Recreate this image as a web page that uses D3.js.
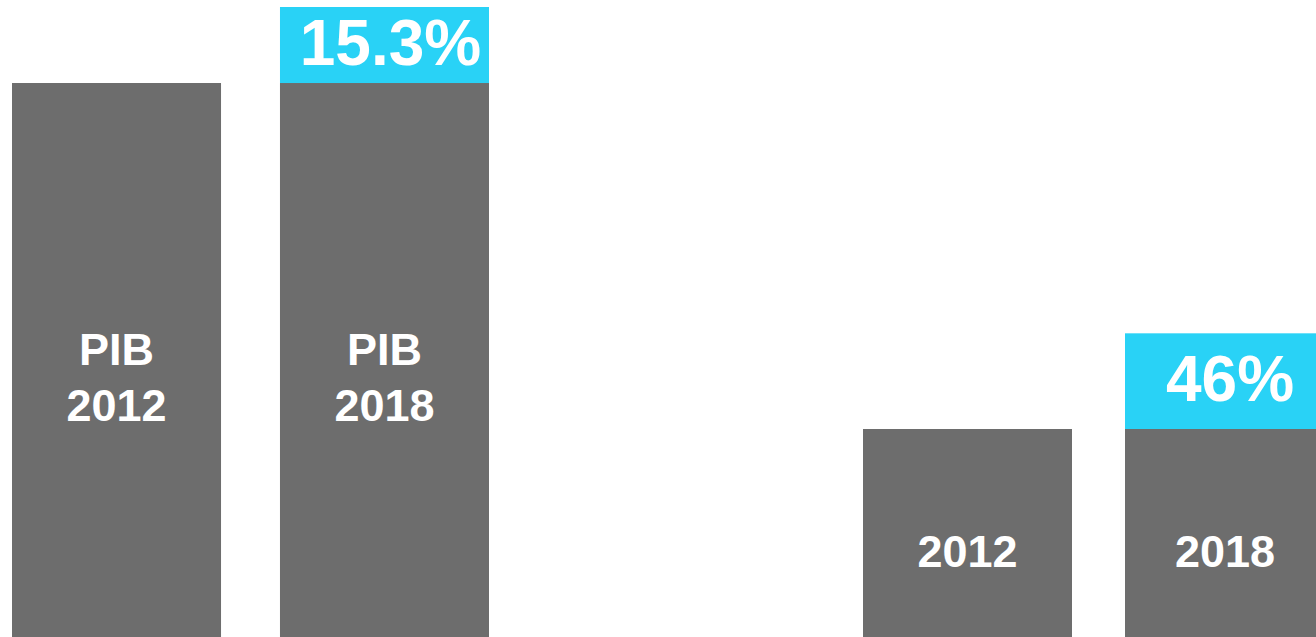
<!DOCTYPE html>
<html>
<head>
<meta charset="utf-8">
<script src="https://cdn.jsdelivr.net/npm/d3@7"></script>
<style>
  html, body { margin: 0; padding: 0; background: #ffffff; overflow: hidden; }
  svg { display: block; }
  text { font-family: "Liberation Sans", Arial, sans-serif; font-weight: bold; fill: #ffffff; }
</style>
</head>
<body>
<svg id="chart" width="1316" height="637"></svg>
<script>
// PIB panel: 2012 level indexed to 100, growth to 2018 in percent
const pibCategories = ["PIB 2012", "PIB 2018"];
const pibLabels = [["PIB", "2012"], ["PIB", "2018"]];
const pibBase = [100, 100];
const pibGrowth = [0, 15.3];

// Second panel: 2012 level indexed to 1, growth to 2018 in percent
const rightCategories = ["2012", "2018"];
const rightLabels = [["2012"], ["2018"]];
const rightBase = [1, 1];
const rightGrowth = [0, 46];

const W = 1316, H = 637;
const GRAY = "#6d6d6d", CYAN = "#29d2f6";

const svg = d3.select("#chart");

// ---- left panel ----
const xL = d3.scaleBand().domain(pibCategories).range([12, 489]).paddingInner(0.22).paddingOuter(0);
// axis floor sits below zero so the stack fills the panel height
const yL = d3.scaleLinear().domain([-11.5, 115.3]).range([H, 7]);

const left = svg.append("g");
const leftRows = pibCategories.map((c, i) => ({ c, base: pibBase[i], growth: pibGrowth[i], label: pibLabels[i] }));

left.selectAll("rect.base").data(leftRows).join("rect")
  .attr("class", "base")
  .attr("x", d => xL(d.c)).attr("width", xL.bandwidth())
  .attr("y", d => yL(d.base)).attr("height", d => yL.range()[0] - yL(d.base))
  .attr("fill", GRAY);

const leftGrowth = leftRows.filter(d => d.growth > 0);
left.selectAll("rect.growth").data(leftGrowth).join("rect")
  .attr("class", "growth")
  .attr("x", d => xL(d.c)).attr("width", xL.bandwidth())
  .attr("y", d => yL(d.base * (1 + d.growth / 100))).attr("height", d => yL(d.base) - yL(d.base * (1 + d.growth / 100)))
  .attr("fill", CYAN);

left.selectAll("text.growth").data(leftGrowth).join("text")
  .attr("class", "growth")
  .attr("x", d => xL(d.c) + xL.bandwidth() / 2 + 6)
  .attr("y", d => (yL(d.base) + yL(d.base * (1 + d.growth / 100))) / 2 + 20)
  .attr("text-anchor", "middle").attr("font-size", 64)
  .text(d => d3.format(".1f")(d.growth) + "%");

left.selectAll("text.cat").data(leftRows).join("text")
  .attr("class", "cat")
  .attr("text-anchor", "middle").attr("font-size", 45)
  .each(function(d) {
    const t = d3.select(this);
    d.label.forEach((line, j) => {
      t.append("tspan").attr("x", xL(d.c) + xL.bandwidth() / 2).attr("y", 365 + j * 56).text(line);
    });
  });

// ---- right panel ----
const xR = d3.scaleBand().domain(rightCategories).range([863, 1334]).paddingInner(0.2023).paddingOuter(0);
const yR = d3.scaleLinear().domain([0, 1]).range([H, 429]);

const right = svg.append("g");
const rightRows = rightCategories.map((c, i) => ({ c, base: rightBase[i], growth: rightGrowth[i], label: rightLabels[i] }));

right.selectAll("rect.base").data(rightRows).join("rect")
  .attr("class", "base")
  .attr("x", d => xR(d.c)).attr("width", xR.bandwidth())
  .attr("y", d => yR(d.base)).attr("height", d => yR(0) - yR(d.base))
  .attr("fill", GRAY);

const rightGrowthRows = rightRows.filter(d => d.growth > 0);
right.selectAll("rect.growth").data(rightGrowthRows).join("rect")
  .attr("class", "growth")
  .attr("x", d => xR(d.c)).attr("width", xR.bandwidth())
  .attr("y", d => yR(d.base * (1 + d.growth / 100))).attr("height", d => yR(d.base) - yR(d.base * (1 + d.growth / 100)))
  .attr("fill", CYAN);

right.selectAll("text.growth").data(rightGrowthRows).join("text")
  .attr("class", "growth")
  .attr("x", 1230)
  .attr("y", d => (yR(d.base) + yR(d.base * (1 + d.growth / 100))) / 2 + 20)
  .attr("text-anchor", "middle").attr("font-size", 64)
  .text(d => d.growth + "%");

right.selectAll("text.cat").data(rightRows).join("text")
  .attr("class", "cat")
  .attr("x", (d, i) => i === 0 ? xR(d.c) + xR.bandwidth() / 2 : 1225)
  .attr("y", 567)
  .attr("text-anchor", "middle").attr("font-size", 45)
  .text(d => d.label[0]);
</script>
</body>
</html>
